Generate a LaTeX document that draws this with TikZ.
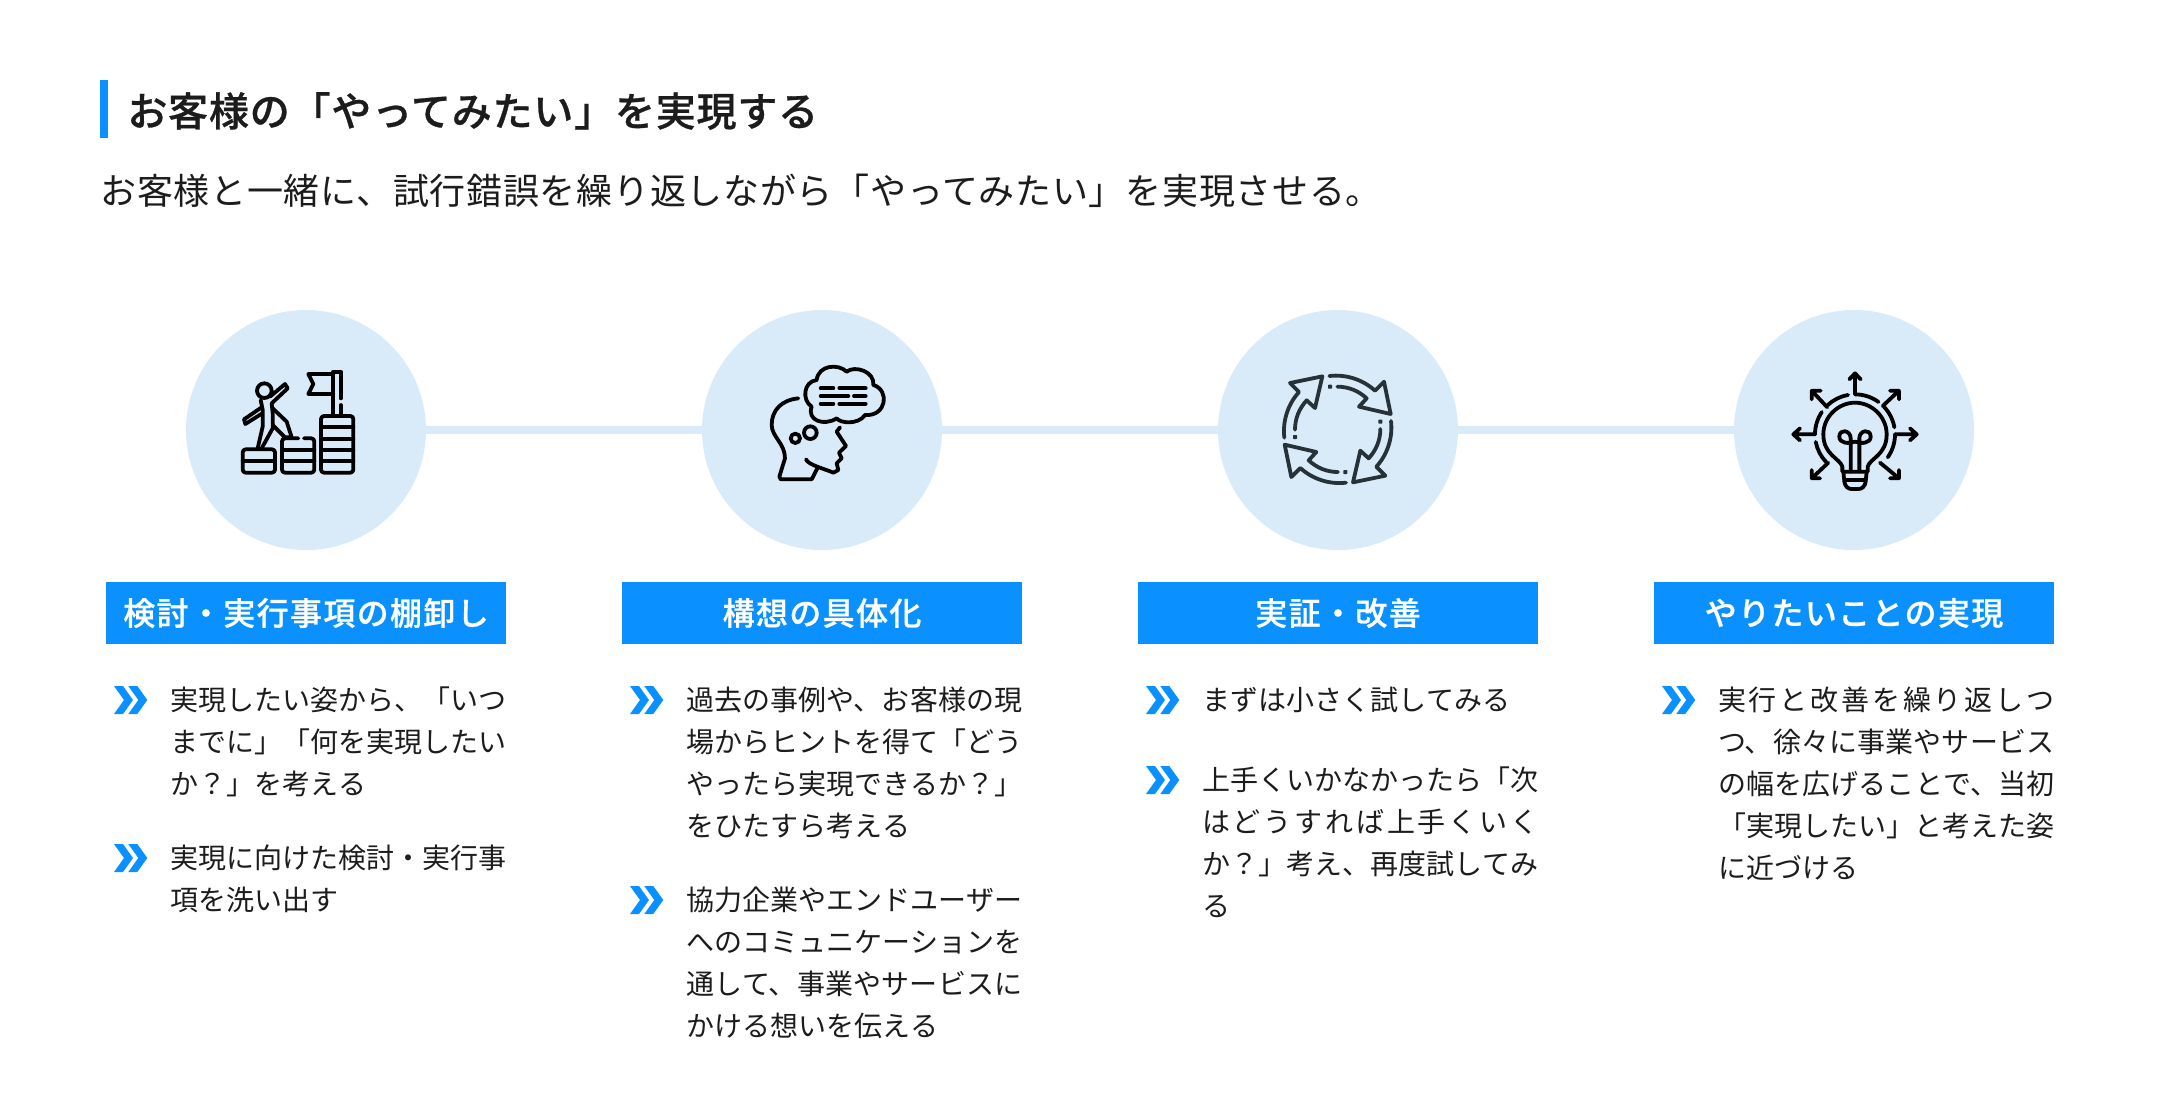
\documentclass[tikz,border=0pt]{standalone}
\usepackage{fontspec}
\setmainfont{Noto Sans CJK JP}
\newfontfamily\titlefont[LetterSpace=2.0,BoldFont={Noto Sans CJK JP Medium},BoldFeatures={FakeBold=0.7}]{Noto Sans CJK JP}
\newfontfamily\leadfont[LetterSpace=2.0]{Noto Sans CJK JP}
\newfontfamily\headfont[LetterSpace=4.2,BoldFont={Noto Sans CJK JP Medium},BoldFeatures={FakeBold=0.7}]{Noto Sans CJK JP}
\usetikzlibrary{positioning}
\XeTeXlinebreaklocale "ja"
\XeTeXlinebreakskip=0pt plus 1pt
\definecolor{mainblue}{HTML}{0A91FF}
\definecolor{paleblue}{HTML}{D9EAF9}
\definecolor{inkdark}{HTML}{1C1C1C}
\definecolor{inkslate}{HTML}{263238}
\tikzstyle{disc} = [circle,fill=paleblue,inner sep=0,outer sep=0,minimum size=120pt]
\tikzstyle{link} = [paleblue,line width=4pt]
\tikzstyle{head} = [fill=mainblue,text=white,inner sep=0,outer sep=0,minimum width=200pt,minimum height=31pt,font=\headfont\bfseries\fontsize{16}{20}\selectfont]
\tikzstyle{bodytext} = [anchor=north west,inner sep=0,outer sep=0,text width=168.2pt,align=justify,text=inkdark,font=\fontsize{14}{21}\selectfont,execute at begin node=\strut]
\tikzstyle{icon} = [line width=1.9pt,line cap=round,line join=round,black]
\tikzset{
  chevrons/.pic={
    \fill[mainblue] (0,-14) -- (9,-14) -- (19,0) -- (9,14) -- (0,14) -- (10,0) -- cycle;
    \fill[mainblue] (14.3,-14) -- (23.3,-14) -- (33.3,0) -- (23.3,14) -- (14.3,14) -- (24.3,0) -- cycle;
  }
}
\def \cyclearrow {(388,228) .. controls (440,222) and (490,240) .. (525,272) -- (552,245) -- (572,342) -- (477,320) -- (500,295) .. controls (475,272) and (445,260) .. (412,260) (390,260) circle (2)}
\begin{document}
\begin{tikzpicture}[x=.5pt,y=-.5pt]
  \useasboundingbox (0,0) rectangle (2160,1120);
  \fill[mainblue] (100,80) rectangle (108,138);
  \node[anchor=west,inner sep=0,text=inkdark,font=\titlefont\bfseries\fontsize{20}{24}\selectfont] (title) at (127,111) {お客様の「やってみたい」を実現する};
  \node[anchor=west,inner sep=0,text=inkdark,font=\leadfont\fontsize{18}{22}\selectfont] (lead) at (100,191) {お客様と一緒に、試行錯誤を繰り返しながら「やってみたい」を実現させる。};

  \node[disc] (plan) at (306,430) {};
  \node[disc,right=138pt of plan] (idea) {};
  \node[disc,right=138pt of idea] (test) {};
  \node[disc,right=138pt of test] (goal) {};
  \draw[link] (plan) -- (idea);
  \draw[link] (idea) -- (test);
  \draw[link] (test) -- (goal);

  \node[head,below=16pt of plan] (planhead) {検討・実行事項の棚卸し};
  \node[head,below=16pt of idea] (ideahead) {構想の具体化};
  \node[head,below=16pt of test] (testhead) {実証・改善};
  \node[head,below=16pt of goal] (goalhead) {やりたいことの実現};

  \pic at (114,700) {chevrons};
  \node[bodytext] (plana) at (170,681) {実現したい姿から、「いつまでに」「何を実現したいか？」を考える};
  \pic at (114,858) {chevrons};
  \node[bodytext] (planb) at (170,839) {実現に向けた検討・実行事項を洗い出す};

  \pic at (630,700) {chevrons};
  \node[bodytext] (ideaa) at (686,681) {過去の事例や、お客様の現場からヒントを得て「どうやったら実現できるか？」をひたすら考える};
  \pic at (630,900) {chevrons};
  \node[bodytext] (ideab) at (686,881) {協力企業やエンドユーザーへのコミュニケーションを通して、事業やサービスにかける想いを伝える};

  \pic at (1146,700) {chevrons};
  \node[bodytext] (testa) at (1202,681) {まずは小さく試してみる};
  \pic at (1146,780) {chevrons};
  \node[bodytext] (testb) at (1202,761) {上手くいかなかったら「次はどうすれば上手くいくか？」考え、再度試してみる};

  \pic at (1662,700) {chevrons};
  \node[bodytext] (goala) at (1718,681) {実行と改善を繰り返しつつ、徐々に事業やサービスの幅を広げることで、当初「実現したい」と考えた姿に近づける};

  % steps and flag
  \begin{scope}[shift={(170,300)},x=.16667pt,y=-.16667pt]
    \draw[icon,rounded corners=1.5pt] (218,448) rectangle (315,518);
    \draw[icon] (218,483) -- (315,483);
    \draw[icon,rounded corners=1.5pt] (385,415) -- (336,415) -- (336,518) -- (433,518) -- (433,415) -- (402,415);
    \draw[icon] (336,450) -- (433,450) (336,483) -- (433,483);
    \draw[icon,rounded corners=1.5pt] (453,348) rectangle (550,518);
    \draw[icon] (453,382) -- (550,382) (453,416) -- (550,416) (453,450) -- (550,450) (453,484) -- (550,484);
    \draw[icon] (490,348) -- (490,215) -- (512,215) -- (512,295) (512,315) -- (512,348);
    \draw[icon] (490,222) -- (415,222) -- (430,252) -- (415,282) -- (490,282);
    \draw[icon] (283,272) circle (22);
    \draw[icon] (275,322) -- (222,358) -- (226,372) -- (277,340);
    \draw[icon] (272,300) -- (278,330) -- (278,380) -- (263,445);
    \draw[icon] (300,290) -- (345,252) -- (353,265) -- (305,310) -- (308,340) -- (308,385) -- (275,445);
    \draw[icon] (308,325) -- (350,365) -- (365,412) (308,375) -- (345,412) -- (365,412);
  \end{scope}

  % head and cloud
  \begin{scope}[shift={(690,300)},x=.16667pt,y=-.16667pt]
    \draw[icon] (325,295) .. controls (275,300) and (245,330) .. (245,375) .. controls (245,410) and (285,430) .. (285,475) -- (268,530) -- (272,538) -- (365,538) -- (382,505);
    \draw[icon] (348,478) .. controls (355,495) and (400,505) .. (430,518) -- (445,510) -- (440,490) -- (455,475) -- (447,458) -- (468,438) -- (440,395) -- (450,382);
    \draw[icon] (316,415) circle (14) (361,398) circle (19);
    \draw[icon] (380,240) .. controls (385,195) and (445,190) .. (470,215) .. controls (495,195) and (555,215) .. (550,255) .. controls (600,270) and (590,350) .. (525,345) .. controls (505,375) and (450,370) .. (440,355) .. controls (400,380) and (350,360) .. (365,320) .. controls (335,300) and (340,245) .. cycle;
    \draw[icon] (392,265) -- (430,265) (448,265) -- (527,265) (392,288) -- (475,288) (492,288) -- (527,288) (392,311) -- (430,311) (448,311) -- (527,311);
  \end{scope}

  % cycle
  \begin{scope}[shift={(1200,300)},x=.16667pt,y=-.16667pt]
    \draw[icon,inkslate] \cyclearrow;
    \draw[icon,inkslate,rotate around={90:(413,388)}] \cyclearrow;
    \draw[icon,inkslate,rotate around={180:(413,388)}] \cyclearrow;
    \draw[icon,inkslate,rotate around={270:(413,388)}] \cyclearrow;
  \end{scope}

  % bulb
  \begin{scope}[shift={(1720,300)},x=.16667pt,y=-.16667pt]
    \draw[icon] (367,515) -- (367,500) .. controls (360,475) and (310,465) .. (310,403) .. controls (310,350) and (355,308) .. (405,308) .. controls (455,308) and (500,350) .. (500,403) .. controls (500,465) and (450,475) .. (443,500) -- (443,515) -- cycle;
    \draw[icon] (370,515) -- (373,545) .. controls (375,560) and (385,567) .. (395,567) -- (415,567) .. controls (425,567) and (435,560) .. (437,545) -- (440,515) (373,540) -- (437,540);
    \draw[icon] (392,515) -- (392,415) .. controls (392,390) and (358,385) .. (358,410) .. controls (358,430) and (385,432) .. (405,425) .. controls (425,432) and (452,430) .. (452,410) .. controls (452,385) and (418,390) .. (418,415) -- (418,515);
    \draw[icon] (405,403) ++(-100:120) arc[start angle=-100,end angle=-133,radius=120];
    \draw[icon] (405,403) ++(-90:120) arc[start angle=-90,end angle=-54,radius=120];
    \draw[icon] (405,403) ++(-44:120) arc[start angle=-44,end angle=-10,radius=120];
    \draw[icon] (405,403) ++(0:120) arc[start angle=0,end angle=35,radius=120];
    \draw[icon] (405,403) ++(180:120) arc[start angle=180,end angle=214,radius=120];
    \draw[icon] (405,403) ++(169:120) arc[start angle=169,end angle=136,radius=120];
    \draw[icon] (405,283) -- (405,220) (388,238) -- (405,220) -- (422,238);
    \draw[icon] (525,403) -- (590,403) (570,385) -- (590,403) -- (570,421);
    \draw[icon] (285,403) -- (220,403) (240,385) -- (220,403) -- (240,421);
    \draw[icon] (322,322) -- (275,272) (275,298) -- (275,272) -- (302,272);
    \draw[icon] (488,318) -- (537,272) (510,272) -- (537,272) -- (537,298);
    \draw[icon] (480,488) -- (537,535) (537,510) -- (537,535) -- (510,535);
    \draw[icon] (325,488) -- (275,535) (275,510) -- (275,535) -- (300,535);
  \end{scope}
\end{tikzpicture}
\end{document}
